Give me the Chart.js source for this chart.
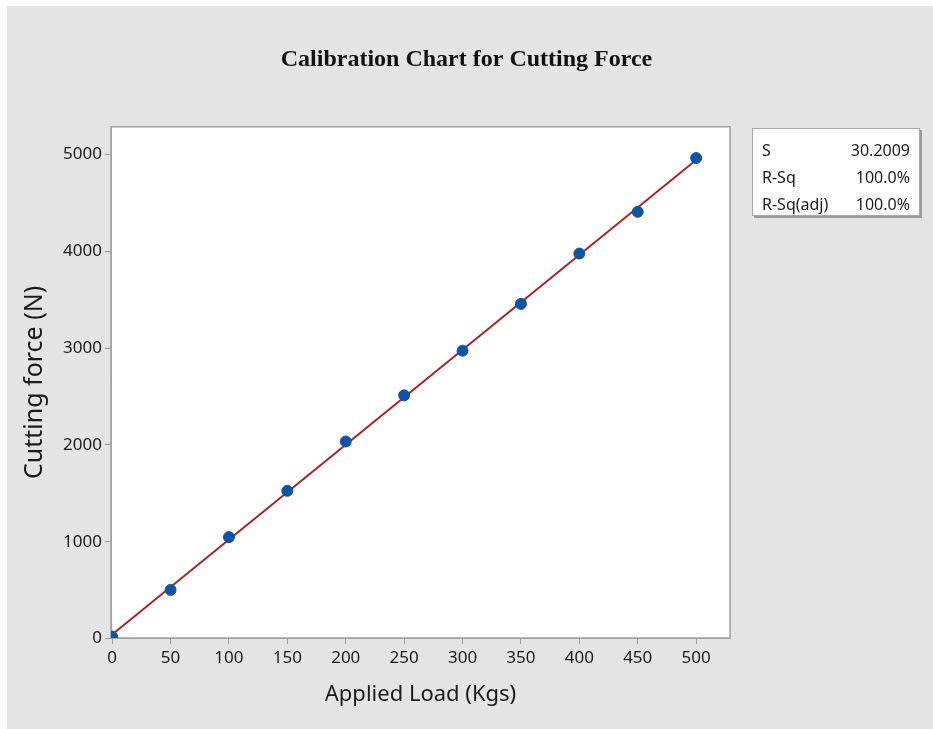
<!DOCTYPE html>
<html lang="en">
<head>
    <meta charset="UTF-8">
    <title>Calibration Chart for Cutting Force</title>
    <script src="https://cdn.jsdelivr.net/npm/chart.js"></script>
    <style>
        body {
            margin: 0;
            background-color: #ffffff;
        }
        .wrap {
            position: relative;
            width: 933px;
            height: 729px;
        }
        .stats {
            position: absolute;
            left: 752px;
            top: 128px;
            width: 168px;
            height: 88px;
            background-color: #ffffff;
            border: 1px solid #a8a8a8;
            box-shadow: 2px 2px 0 #9a9a9a;
            font-family: 'Noto Sans', sans-serif;
            font-size: 16px;
            color: #1a1a1a;
            box-sizing: border-box;
            padding: 8px 9px 0 9px;
        }
        .stats .row {
            display: flex;
            justify-content: space-between;
            height: 27px;
            line-height: 27px;
        }
    </style>
</head>
<body>
    <div class="wrap">
        <canvas id="calChart" width="933" height="729"></canvas>
        <div class="stats" id="stats"></div>
    </div>

    <script>
        // 荷重 (Kgs) と 切削力 (N)
        const loads = [0, 50, 100, 150, 200, 250, 300, 350, 400, 450, 500];
        const forces = [20, 502, 1047, 1525, 2035, 2511, 2973, 3456, 3976, 4407, 4962];

        // 軸の目盛
        const xTicks = [0, 50, 100, 150, 200, 250, 300, 350, 400, 450, 500];
        const yTicks = [0, 1000, 2000, 3000, 4000, 5000];

        // 回帰の統計値
        const statLabels = ['S', 'R-Sq', 'R-Sq(adj)'];
        const statValues = ['30.2009', '100.0%', '100.0%'];

        // 最小二乗法で近似直線を求める
        function fitLine(xs, ys) {
            const n = xs.length;
            const mx = xs.reduce((a, b) => a + b, 0) / n;
            const my = ys.reduce((a, b) => a + b, 0) / n;
            let sxy = 0, sxx = 0;
            for (let i = 0; i < n; i++) {
                sxy += (xs[i] - mx) * (ys[i] - my);
                sxx += (xs[i] - mx) * (xs[i] - mx);
            }
            const slope = sxy / sxx;
            const icpt = my - slope * mx;
            const x0 = Math.min(...xs), x1 = Math.max(...xs);
            return [{ x: x0, y: icpt + slope * x0 }, { x: x1, y: icpt + slope * x1 }];
        }

        const statsBox = document.getElementById('stats');
        statLabels.forEach((lab, i) => {
            const row = document.createElement('div');
            row.className = 'row';
            const a = document.createElement('span');
            a.textContent = lab;
            const b = document.createElement('span');
            b.textContent = statValues[i];
            row.appendChild(a);
            row.appendChild(b);
            statsBox.appendChild(row);
        });

        // 背景とプロット枠を描く
        const framePlugin = {
            id: 'frame',
            beforeDraw(chart) {
                const { ctx, chartArea: a } = chart;
                ctx.save();
                ctx.fillStyle = '#ffffff';
                ctx.fillRect(0, 0, chart.width, chart.height);
                ctx.fillStyle = '#e4e4e4';
                ctx.fillRect(7, 6, chart.width - 7, chart.height - 6);
                ctx.fillStyle = '#ffffff';
                ctx.fillRect(a.left, a.top, a.right - a.left, a.bottom - a.top);
                ctx.restore();
            },
            beforeDatasetsDraw(chart) {
                const { ctx, chartArea: a } = chart;
                ctx.save();
                ctx.strokeStyle = '#a0a0a0';
                ctx.lineWidth = 1.5;
                ctx.strokeRect(a.left, a.top, a.right - a.left, a.bottom - a.top);
                ctx.restore();
            }
        };

        const tickFont = { family: "'Noto Sans', sans-serif", size: 17 };

        new Chart(document.getElementById('calChart'), {
            type: 'scatter',
            data: {
                datasets: [
                    {
                        label: 'Data',
                        data: loads.map((x, i) => ({ x: x, y: forces[i] })),
                        backgroundColor: '#0b55a6',
                        borderColor: '#0b55a6',
                        pointRadius: 5.5,
                        pointHoverRadius: 5.5,
                        clip: 0,
                        order: 1
                    },
                    {
                        label: 'Fit',
                        type: 'line',
                        data: fitLine(loads, forces),
                        borderColor: '#ad1f24',
                        borderWidth: 2,
                        pointRadius: 0,
                        fill: false,
                        order: 2
                    }
                ]
            },
            options: {
                responsive: false,
                animation: false,
                layout: { padding: 0 },
                plugins: {
                    legend: { display: false },
                    tooltip: { enabled: false },
                    title: {
                        display: true,
                        text: 'Calibration Chart for Cutting Force',
                        color: '#111111',
                        font: { family: "'Liberation Serif', serif", size: 24, weight: 'bold' },
                        padding: { top: 45, bottom: 53 }
                    }
                },
                scales: {
                    x: {
                        type: 'linear',
                        min: -1,
                        max: 529,
                        afterBuildTicks: (s) => { s.ticks = xTicks.map(v => ({ value: v })); },
                        afterFit: (s) => { s.height = 91; },
                        grid: { drawOnChartArea: false, drawTicks: true, tickLength: 6, color: '#999999' },
                        border: { display: true, color: '#a0a0a0' },
                        ticks: { color: '#1a1a1a', font: tickFont, padding: 4, maxRotation: 0, callback: (v) => String(v) },
                        title: {
                            display: true,
                            text: 'Applied Load (Kgs)',
                            color: '#1a1a1a',
                            font: { family: "'Noto Sans', sans-serif", size: 22 },
                            padding: { top: 0, bottom: 21 }
                        }
                    },
                    y: {
                        type: 'linear',
                        min: 5,
                        max: 5285,
                        afterBuildTicks: (s) => { s.ticks = yTicks.map(v => ({ value: v })); },
                        afterFit: (s) => { s.width = 111; },
                        grid: { drawOnChartArea: false, drawTicks: true, tickLength: 6, color: '#999999' },
                        border: { display: true, color: '#a0a0a0' },
                        ticks: { color: '#1a1a1a', font: tickFont, padding: 3, callback: (v) => String(v) },
                        title: {
                            display: true,
                            text: 'Cutting force (N)',
                            color: '#1a1a1a',
                            font: { family: "'Noto Sans', sans-serif", size: 25 },
                            padding: { top: 20, bottom: 0 }
                        }
                    },
                    // 統計ボックス用の右側スペース
                    yRight: {
                        type: 'linear',
                        position: 'right',
                        display: true,
                        afterFit: (s) => { s.width = 203; },
                        grid: { display: false },
                        border: { display: false },
                        ticks: { display: false }
                    }
                }
            },
            plugins: [framePlugin]
        });
    </script>
</body>
</html>
